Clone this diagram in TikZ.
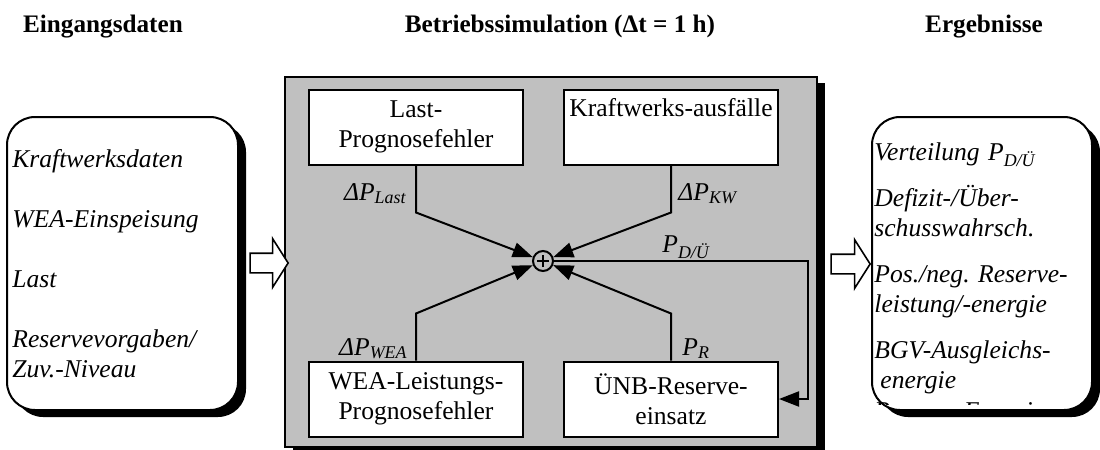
\documentclass[tikz,border=0pt]{standalone}
\usepackage{fontspec}
\setmainfont{Liberation Serif}
\usepackage{tikz}
\usetikzlibrary{arrows.meta}
\usetikzlibrary{calc}
\usetikzlibrary{shadows}
\usetikzlibrary{shapes.arrows}

\definecolor{simgray}{RGB}{192,192,192}
\frenchspacing

\tikzset{
  head/.style={font=\fontsize{12.6}{15}\selectfont\bfseries, inner sep=0pt, anchor=base},
  roundbox/.style={draw, line width=1pt, fill=white, rounded corners=14pt,
    minimum width=#1, minimum height=146.5pt, inner sep=0pt,
    drop shadow={shadow xshift=4pt, shadow yshift=-3.5pt, fill=black, opacity=1}},
  intxt/.style={font=\fontsize{12.8}{15}\selectfont\itshape, inner sep=0pt,
    align=left, text width=#1},
  simbox/.style={draw, line width=1pt, fill=white, minimum width=107pt,
    minimum height=37.5pt, inner sep=0pt, align=center,
    font=\fontsize{12.8}{15}\selectfont},
  lbl/.style={font=\fontsize{12.8}{15}\selectfont\itshape, inner sep=0pt},
  flow/.style={line width=1pt, -{Triangle[length=10pt,width=7.5pt]}},
  blockarrow/.style={single arrow, draw, line width=0.8pt, fill=white,
    inner sep=4.5pt, single arrow head extend=7.25pt,
    single arrow tip angle=115, minimum height=#1},
}

\begin{document}
\begin{tikzpicture}[x=0.5pt, y=-0.5pt]
    \useasboundingbox (0,0) rectangle (1100,450);

    % headings
    \node[head] (hin) at (103,32) {Eingangsdaten};
    \node[head] (hsim) at (560,32) {Betriebssimulation (Δt = 1 h)};
    \node[head] (hres) at (984,32) {Ergebnisse};

    % input and result boxes
    \node[roundbox=115.5pt] (inp) at (122.5,263.5) {};
    \node[roundbox=110pt] (res) at (982,263.5) {};

    \node[intxt=110pt, anchor=base west] (intext) at (12,167)
        {Kraftwerksdaten\\[15pt]WEA-Einspeisung\\[15pt]Last\\[15pt]Reservevorgaben/\\Zuv.-Niveau};

    \begin{scope}
        \clip (res.north west) rectangle ([yshift=3.5pt]res.south east);
        \node[intxt=108pt, anchor=base west] (restext) at (874,160)
            {Verteilung P\textsubscript{D/Ü}\\[8pt]Defizit-/Über-\\schusswahrsch.\\[8pt]Pos./neg. Reserve-\\leistung/-energie\\[8pt]BGV-Ausgleichs-\\\hspace*{3pt}energie\\[1pt]Reserve-Energie};
    \end{scope}

    % simulation block
    \node[draw, line width=1pt, fill=simgray, minimum width=266pt, minimum height=185pt,
          inner sep=0pt, drop shadow={shadow xshift=4pt, shadow yshift=-3pt, fill=black, opacity=1}]
          (sim) at (551,262) {};

    \node[blockarrow=19pt] (inarrow) at (266,263) {};
    \node[blockarrow=19.5pt] (outarrow) at (847.5,264) {};

    \node[simbox] (lastpf) at (416,127) {Last-\\Prognosefehler};
    \node[simbox] (kwaus) at (671,127) {Kraftwerks-ausfälle\\\strut};
    \node[simbox] (weapf) at (416,399) {WEA-Leistungs-\\Prognosefehler};
    \node[simbox] (unbre) at (671,399) {ÜNB-Reserve-\\einsatz};

    \node[circle, draw, line width=1pt, fill=simgray, minimum size=10pt, inner sep=0pt,
          path picture={\draw[line width=0.9pt]
            ([xshift=-3pt]path picture bounding box.center) -- ([xshift=3pt]path picture bounding box.center)
            ([yshift=-3pt]path picture bounding box.center) -- ([yshift=3pt]path picture bounding box.center);}]
          (sum) at (543,261) {};

    \draw[flow] (lastpf.south) -- ++(0,47) -- (sum);
    \draw[flow] (kwaus.south) -- ++(0,47) -- (sum);
    \draw[flow] (weapf.north) -- ++(0,-47) -- (sum);
    \draw[flow] (unbre.north) -- ++(0,-47) -- (sum);
    \draw[flow] (sum.east) -- ++(254,0) |- (unbre.east);

    \node[lbl, anchor=base east] (dplast) at (407,200) {ΔP\textsubscript{Last}};
    \node[lbl, anchor=base west] (dpkw) at (678,200) {ΔP\textsubscript{KW}};
    \node[lbl, anchor=base west] (pdu) at (662,252) {P\textsubscript{D/Ü}};
    \node[lbl, anchor=base east] (dpwea) at (408,355) {ΔP\textsubscript{WEA}};
    \node[lbl, anchor=base west] (pr) at (682,355) {P\textsubscript{R}};
\end{tikzpicture}
\end{document}
